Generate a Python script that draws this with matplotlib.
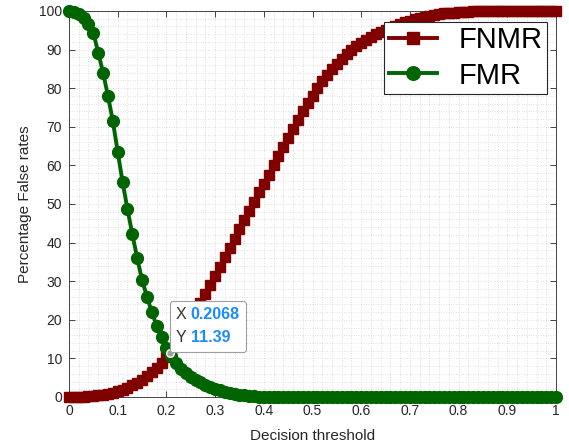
import numpy as np
import matplotlib
matplotlib.use('Agg')
import matplotlib.pyplot as plt
from matplotlib.ticker import MultipleLocator
from matplotlib.offsetbox import TextArea, HPacker, VPacker, AnnotationBbox

plt.rcParams['font.family'] = ['Liberation Sans', 'DejaVu Sans']

# decision thresholds (step 0.01)
thresholds = np.round(np.arange(0, 1.001, 0.01), 2)

fnmr = [0.0, 0.0, 0.05, 0.1, 0.2, 0.3, 0.45, 0.6, 0.85, 1.1,
        1.5, 1.9, 2.4, 3.0, 3.7, 4.5, 5.4, 6.4, 7.6, 8.9,
        10.4, 12.0, 13.8, 15.7, 17.7, 19.8, 22.0, 24.3, 26.6, 29.0,
        31.4, 33.8, 36.2, 38.6, 41.0, 43.4, 45.8, 48.2, 50.6, 53.0,
        55.3, 57.6, 60.0, 62.4, 64.8, 67.2, 69.5, 71.8, 74.0, 76.1,
        78.1, 80.0, 81.8, 83.4, 84.9, 86.3, 87.6, 88.8, 89.9, 90.9,
        91.8, 92.6, 93.3, 94.0, 94.6, 95.2, 95.7, 96.2, 96.7, 97.1,
        97.5, 97.9, 98.2, 98.5, 98.8, 99.0, 99.2, 99.4, 99.5, 99.6,
        99.7, 99.8, 99.85, 99.9, 99.9, 99.95, 99.95, 100, 100, 100,
        100, 100, 100, 100, 100, 100, 100, 100, 100, 100,
        100]

fmr = [100.0, 99.8, 99.3, 98.2, 96.6, 94.3, 89.2, 84.0, 78.0, 71.5,
       63.5, 55.7, 48.7, 42.2, 36.0, 30.3, 26.0, 22.0, 18.5, 15.5,
       12.8, 10.6, 8.8, 7.3, 6.1, 5.2, 4.5, 3.8, 3.2, 2.7,
       2.2, 1.8, 1.4, 1.1, 0.8, 0.6, 0.4, 0.25, 0.15, 0.1,
       0.06, 0.04, 0.02, 0.01] + [0.0] * 57

tip_x, tip_y = 0.2068, 11.39
xtick_labels = ['0', '0.1', '0.2', '0.3', '0.4', '0.5', '0.6', '0.7', '0.8', '0.9', '1']

fig = plt.figure(figsize=(5.69, 4.47), dpi=100)
ax = fig.add_axes([69 / 569, 50 / 447, 487 / 569, 386 / 447])

ax.plot(thresholds, fnmr, '-s', color='#800000', lw=2.8, ms=7.5,
        label='FNMR', clip_on=False, zorder=3)
ax.plot(thresholds, fmr, '-o', color='#006400', lw=2.8, ms=8.5,
        label='FMR', clip_on=False, zorder=4)

ax.set_xlim(0, 1)
ax.set_ylim(0, 100)
ax.set_xticks(np.round(np.arange(0, 1.01, 0.1), 1))
ax.set_xticklabels(xtick_labels)
ax.yaxis.set_major_locator(MultipleLocator(10))
ax.xaxis.set_minor_locator(MultipleLocator(0.02))
ax.yaxis.set_minor_locator(MultipleLocator(2))

ax.grid(which='both', linestyle=(0, (1, 2.5)), color='#c4c4c4', linewidth=0.5)
ax.set_axisbelow(True)
ax.tick_params(which='major', direction='in', length=4, width=0.6, top=True, right=True,
               labelsize=10, colors='#262626', pad=5)
ax.tick_params(which='minor', length=0, top=True, right=True)
for sp in ax.spines.values():
    sp.set_color('#262626')
    sp.set_linewidth(0.6)

ax.set_xlabel('Decision threshold', fontsize=11, color='#262626', labelpad=8)
ax.set_ylabel('Percentage False rates', fontsize=11, color='#262626', labelpad=5)

leg = ax.legend(loc='upper right', bbox_to_anchor=(0.9815, 0.9715), fontsize=21,
                fancybox=False, framealpha=1, edgecolor='#262626',
                handlelength=1.65, handletextpad=0.75, borderpad=0.15,
                labelspacing=0.25, borderaxespad=0, markerscale=1.15)
leg.get_frame().set_linewidth(0.8)
leg.set_zorder(6)

# data tip
ax.plot([tip_x], [tip_y], 'o', ms=5.5, color='#a0a0a0', mec='white', mew=1,
        zorder=7, clip_on=False)
blue = '#1a8cff'
row1 = HPacker(children=[TextArea('X', textprops=dict(color='#333333', fontsize=11.5)),
                         TextArea('0.2068', textprops=dict(color=blue, fontsize=11.5, fontweight='bold'))],
               sep=3, pad=0)
row2 = HPacker(children=[TextArea('Y', textprops=dict(color='#333333', fontsize=11.5)),
                         TextArea('11.39', textprops=dict(color=blue, fontsize=11.5, fontweight='bold'))],
               sep=3, pad=0)
box = VPacker(children=[row1, row2], sep=6, pad=0, align='left')
ab = AnnotationBbox(box, (tip_x, tip_y), xybox=(4.5, 5.5), xycoords='data',
                    boxcoords='offset points', box_alignment=(0, 0), pad=0.75,
                    bboxprops=dict(boxstyle='round,pad=0.45,rounding_size=0.2',
                                   fc='white', ec='#a0a0a0', lw=0.8))
ab.set_zorder(8)
ax.add_artist(ab)

fig.savefig('out.png', dpi=100)
